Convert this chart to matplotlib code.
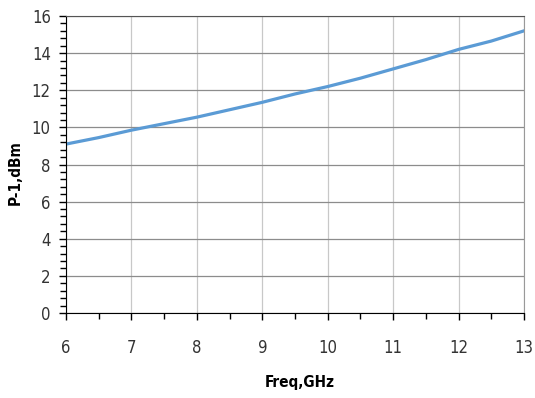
import numpy as np
import matplotlib.pyplot as plt
from matplotlib.ticker import MultipleLocator
from matplotlib import font_manager

names = sorted(set(f.name for f in font_manager.fontManager.ttflist))
print([n for n in names if 'Narrow' in n or 'Condensed' in n or 'Liberation' in n or 'DejaVu' in n])
print(sorted(set((f.name, f.stretch) for f in font_manager.fontManager.ttflist if 'DejaVu' in f.name)))

plt.rcParams['font.family'] = ['DejaVu Sans']
plt.rcParams['font.stretch'] = 'condensed'

freq = [6, 6.5, 7, 7.5, 8, 8.5, 9, 9.5, 10, 10.5, 11, 11.5, 12, 12.5, 13]
p1 = [9.1, 9.45, 9.85, 10.2, 10.55, 10.95, 11.35, 11.8, 12.2, 12.65, 13.15, 13.65, 14.2, 14.65, 15.2]

fig = plt.figure(figsize=(5.35, 3.98), dpi=100)
ax = fig.add_axes([66/535, 1 - 313/398, (524-66)/535, (313-16)/398])

ax.plot(freq, p1, color='#5b9bd5', linewidth=2.3)

ax.set_xlim(6, 13)
ax.set_ylim(0, 16)
ax.xaxis.set_major_locator(MultipleLocator(1))
ax.xaxis.set_minor_locator(MultipleLocator(0.5))
ax.yaxis.set_major_locator(MultipleLocator(2))
ax.yaxis.set_minor_locator(MultipleLocator(0.4))

ax.grid(True, axis='y', which='major', color='#8c8c8c', linewidth=0.9)
ax.grid(True, axis='x', which='major', color='#c8c8c8', linewidth=0.9)
ax.tick_params(which='major', direction='out', length=5, width=1, labelsize=12, pad=14, colors='black')
ax.tick_params(axis='y', which='major', pad=6)
ax.tick_params(which='minor', direction='out', length=4, width=1)
for lab in ax.get_xticklabels() + ax.get_yticklabels():
    lab.set_color('#333333')

ax.spines['left'].set_color('black')
ax.spines['bottom'].set_color('black')
ax.spines['top'].set_color('#555555')
ax.spines['right'].set_color('#999999')

fig.text(300/535, 1 - 383/398, 'Freq,GHz', fontsize=11, fontweight='bold', ha='center', va='center')
fig.text(15/535, 1 - 173/398, 'P-1,dBm', fontsize=11, fontweight='bold', ha='center', va='center', rotation=90)

fig.savefig('out.png', dpi=100)
